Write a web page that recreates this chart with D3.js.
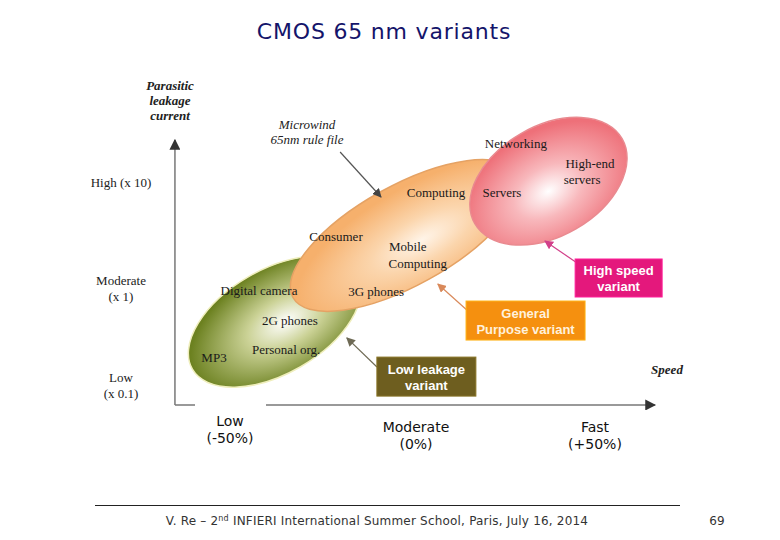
<!DOCTYPE html>
<html><head><meta charset="utf-8">
<script src="https://cdn.jsdelivr.net/npm/d3@7"></script>
<style>html,body{margin:0;padding:0;background:#fff;}svg{display:block;}</style>
</head><body>
<script>
// ---------- DATA ----------
const title = "CMOS 65 nm variants";
const speedValues = [-50, 0, 50];
const speedLabels = [["Low", "(-50%)"], ["Moderate", "(0%)"], ["Fast", "(+50%)"]];
const leakValues = [0.1, 1, 10];
const leakLabels = [["Low", "(x 0.1)"], ["Moderate", "(x 1)"], ["High (x 10)"]];
const yTitle = ["Parasitic", "leakage", "current"];
const xTitle = "Speed";

const segNames = ["Low leakage", "General Purpose", "High speed"];
const segSpeed = [-38, -3, 37];
const segLeak = [0.46, 3.2, 10.4];

const appNames = ["Digital camera", "2G phones", "Personal org.", "MP3", "Consumer", "Mobile", "Computing",
  "3G phones", "Computing", "Networking", "Servers", "High-end", "servers"];
const appSpeed = [-42.2, -33.9, -34.9, -54.3, -21.5, -2.2, 0.5, -10.7, 5.6, 27.9, 24.0, 48.6, 46.4];
const appLeak = [0.95, 0.468, 0.235, 0.194, 3.09, 2.49, 1.72, 0.93, 8.05, 23.3, 8.05, 15.1, 10.7];

const variantLabels = [["Low leakage", "variant"], ["General", "Purpose variant"], ["High speed", "variant"]];
const variantSpeed = [2.9, 30.6, 56.6];
const variantLeak = [0.125, 0.473, 1.27];
const arrowFromSpeed = [-10.5, 14.2, 45.0];
const arrowFromLeak = [0.157, 0.607, 1.76];
const arrowToSpeed = [-18.6, 6.1, 36.0];
const arrowToLeak = [0.313, 1.115, 2.84];

const noteLines = ["Microwind", "65nm rule file"];
const noteSpeed = -29.3;
const noteLeak = [35.3, 25.5];
const noteArrowSpeed = [-20.4, -9.4];
const noteArrowLeak = [19.6, 7.38];

const axisSpeedRange = [-64.8, 66.8];
const axisLeakRange = [0.0637, 25.5];

const footer = ["V. Re \u2013 2", "nd", " INFIERI International Summer School, Paris, July 16, 2014"];
const pageNo = "69";

// ---------- STYLE / GEOMETRY ----------
const W = 780, H = 540;
const x = d3.scaleLinear().domain([-50, 0, 50]).range([230, 416, 595]);
const y = d3.scaleLog().domain([0.1, 1, 10]).range([386, 289, 183]);
const segGeom = [
  {rx: 95, ry: 52, rot: -30, c0: "#ffffff", c1: "#cbd296", c2: "#6c8120", stroke: "#efeebc", fx: "55%", fy: "55%"},
  {rx: 128, ry: 50, rot: -29, c0: "#fff4e8", c1: "#fbd5ac", c2: "#f6b06c", stroke: "#e5a264", fx: "55%", fy: "62%"},
  {rx: 85, ry: 55, rot: -30, c0: "#ffffff", c1: "#f8b8bc", c2: "#ee7079", stroke: "#e98a90", fx: "47%", fy: "58%"}
];
const boxGeom = [
  {w: 99, h: 39, fill: "#6e5e1f", text: "#ffffff", arrow: "#6e6a55"},
  {w: 119, h: 39, fill: "#f5900f", text: "#fff1dc", arrow: "#d9895a"},
  {w: 87, h: 38, fill: "#e4187c", text: "#ffffff", arrow: "#d2408a"}
];
const serif = "'Liberation Serif', 'Times New Roman', serif";
const comic = "'DejaVu Sans', sans-serif";

const svg = d3.select("body").append("svg").attr("width", W).attr("height", H);
const defs = svg.append("defs");

function marker(id, color, size) {
  defs.append("marker").attr("id", id).attr("viewBox", "0 0 10 10").attr("refX", 9).attr("refY", 5)
    .attr("markerWidth", size).attr("markerHeight", size).attr("orient", "auto").attr("markerUnits", "userSpaceOnUse")
    .append("path").attr("d", "M0,0L10,5L0,10Z").attr("fill", color);
}
marker("axArrow", "#333", 11);
marker("noteArrow", "#444", 9);
boxGeom.forEach((b, i) => marker("varArrow" + i, b.arrow, 9));

// title
svg.append("text").attr("x", 384).attr("y", 39).attr("text-anchor", "middle")
  .attr("font-family", comic).attr("font-size", 22).attr("letter-spacing", 0.8).attr("fill", "#14146a").text(title);

// axes
const x0 = x(axisSpeedRange[0]), y0 = y(axisLeakRange[0]);
svg.append("line").attr("x1", x0).attr("y1", y0).attr("x2", x0).attr("y2", y(axisLeakRange[1]))
  .attr("stroke", "#777").attr("stroke-width", 1.5).attr("marker-end", "url(#axArrow)");
svg.append("line").attr("x1", x0).attr("y1", y0).attr("x2", x(axisSpeedRange[1])).attr("y2", y0)
  .attr("stroke", "#777").attr("stroke-width", 1.5).attr("marker-end", "url(#axArrow)");
// white label backing under "Low"
svg.append("rect").attr("x", x(speedValues[0]) - 35).attr("y", y0 - 3).attr("width", 71).attr("height", 45).attr("fill", "#fff");

// y labels
leakValues.forEach((v, i) => {
  const lines = leakLabels[i];
  const t = svg.append("text").attr("text-anchor", "middle").attr("font-family", serif).attr("font-size", 13).attr("fill", "#222");
  lines.forEach((l, j) => t.append("tspan").attr("x", 121).attr("y", y(v) + 4 + (j - (lines.length - 1) / 2) * 16).text(l));
});
// y title
const yt = svg.append("text").attr("text-anchor", "middle").attr("font-family", serif).attr("font-size", 13)
  .attr("font-weight", "bold").attr("font-style", "italic").attr("fill", "#222");
yTitle.forEach((l, j) => yt.append("tspan").attr("x", 170).attr("y", 90 + j * 15).text(l));
// x labels
const xLabelDy = [-6, 0, 0];
speedValues.forEach((v, i) => {
  const t = svg.append("text").attr("text-anchor", "middle").attr("font-family", comic).attr("font-size", 14).attr("fill", "#111");
  speedLabels[i].forEach((l, j) => t.append("tspan").attr("x", x(v)).attr("y", 432 + xLabelDy[i] + j * 17).text(l));
});
svg.append("text").attr("x", 667).attr("y", 374).attr("text-anchor", "middle").attr("font-family", serif)
  .attr("font-size", 13).attr("font-weight", "bold").attr("font-style", "italic").attr("fill", "#222").text(xTitle);

// ellipses
segNames.forEach((n, i) => {
  const g = segGeom[i];
  const grad = defs.append("radialGradient").attr("id", "grad" + i).attr("cx", g.fx).attr("cy", g.fy).attr("r", "55%")
    .attr("fx", g.fx).attr("fy", g.fy);
  grad.append("stop").attr("offset", "0%").attr("stop-color", g.c0);
  grad.append("stop").attr("offset", "40%").attr("stop-color", g.c1);
  grad.append("stop").attr("offset", "100%").attr("stop-color", g.c2);
  const cx = x(segSpeed[i]), cy = y(segLeak[i]);
  svg.append("ellipse").attr("cx", 0).attr("cy", 0).attr("rx", g.rx).attr("ry", g.ry)
    .attr("transform", `translate(${cx},${cy}) rotate(${g.rot})`)
    .attr("fill", `url(#grad${i})`).attr("stroke", g.stroke).attr("stroke-width", 1.5)
    .append("title").text(n);
});

// application labels
appNames.forEach((n, i) => {
  svg.append("text").attr("x", x(appSpeed[i])).attr("y", y(appLeak[i]) + 4).attr("text-anchor", "middle")
    .attr("font-family", serif).attr("font-size", 13).attr("fill", "#1a1a1a").text(n);
});

// note
const nt = svg.append("text").attr("text-anchor", "middle").attr("font-family", serif).attr("font-size", 13)
  .attr("font-style", "italic").attr("fill", "#222");
noteLines.forEach((l, j) => nt.append("tspan").attr("x", x(noteSpeed)).attr("y", y(noteLeak[j]) + 4).text(l));
svg.append("line").attr("x1", x(noteArrowSpeed[0])).attr("y1", y(noteArrowLeak[0]))
  .attr("x2", x(noteArrowSpeed[1])).attr("y2", y(noteArrowLeak[1]))
  .attr("stroke", "#555").attr("stroke-width", 1.2).attr("marker-end", "url(#noteArrow)");

// variant boxes
variantLabels.forEach((lines, i) => {
  const b = boxGeom[i];
  svg.append("line").attr("x1", x(arrowFromSpeed[i])).attr("y1", y(arrowFromLeak[i]))
    .attr("x2", x(arrowToSpeed[i])).attr("y2", y(arrowToLeak[i]))
    .attr("stroke", b.arrow).attr("stroke-width", 1.2).attr("marker-end", `url(#varArrow${i})`);
  const cx = x(variantSpeed[i]), cy = y(variantLeak[i]);
  svg.append("rect").attr("x", cx - b.w / 2).attr("y", cy - b.h / 2).attr("width", b.w).attr("height", b.h)
    .attr("fill", b.fill).attr("stroke", d3.color(b.fill).brighter(0.6)).attr("stroke-width", 1);
  const t = svg.append("text").attr("text-anchor", "middle").attr("font-family", "'Liberation Sans', Arial, sans-serif")
    .attr("font-size", 13).attr("font-weight", "bold").attr("fill", b.text);
  lines.forEach((l, j) => t.append("tspan").attr("x", cx).attr("y", cy - 3 + j * 16).text(l));
});

// footer
svg.append("line").attr("x1", 95).attr("x2", 680).attr("y1", 505.5).attr("y2", 505.5).attr("stroke", "#222").attr("stroke-width", 1);
const ft = svg.append("text").attr("x", 377).attr("y", 525).attr("text-anchor", "middle")
  .attr("font-family", "'DejaVu Sans', Verdana, sans-serif").attr("font-size", 12).attr("letter-spacing", 0.2).attr("fill", "#333");
ft.append("tspan").text(footer[0]);
ft.append("tspan").attr("font-size", 8).attr("dy", -4).text(footer[1]);
ft.append("tspan").attr("dy", 4).text(footer[2]);
svg.append("text").attr("x", 717).attr("y", 525).attr("text-anchor", "middle")
  .attr("font-family", "'DejaVu Sans', Verdana, sans-serif").attr("font-size", 12).attr("fill", "#333").text(pageNo);
</script>
</body></html>
